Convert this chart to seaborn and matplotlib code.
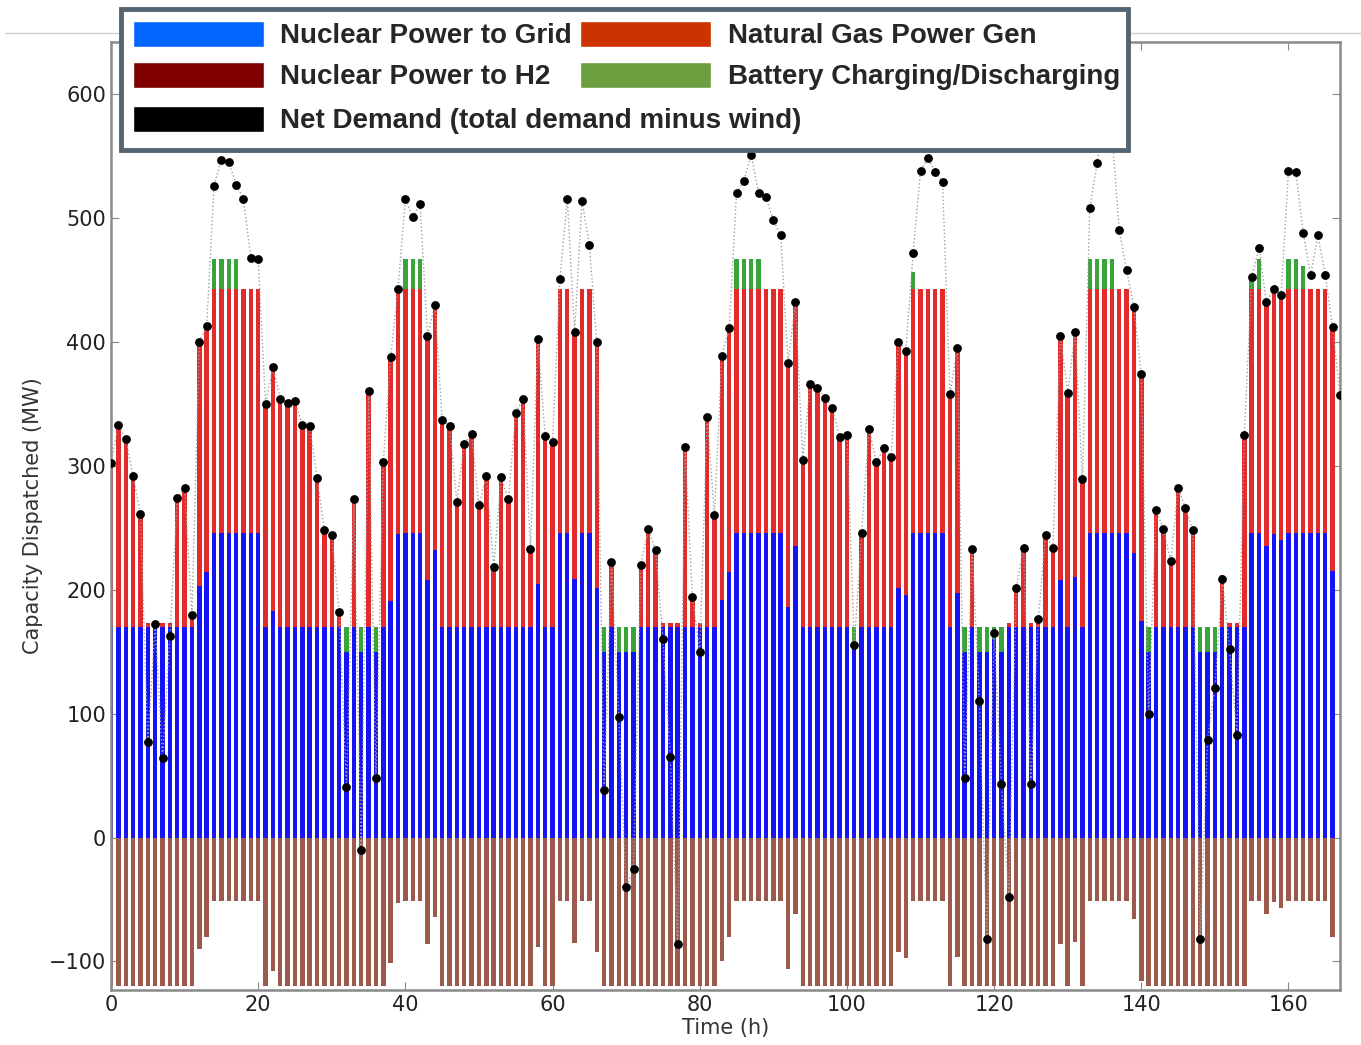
import numpy as np
import pandas as pd
import matplotlib
matplotlib.use('Agg')
import matplotlib.pyplot as plt
from matplotlib.patches import Patch, Rectangle
from matplotlib.lines import Line2D
import seaborn as sns

# Values (MW per hour), bars for hours 0..166
nuclear_grid = [
    170, 170, 170, 170, 170, 170, 170, 170, 170, 170, 170, 170, 203, 214, 246, 246, 246, 246, 246, 246,
    246, 170, 183, 170, 170, 170, 170, 170, 170, 170, 170, 170, 150, 170, 150, 170, 150, 170, 191, 245,
    246, 246, 246, 208, 232, 170, 170, 170, 170, 170, 170, 170, 170, 170, 170, 170, 170, 170, 205, 170,
    170, 246, 246, 209, 246, 246, 201, 150, 170, 150, 150, 150, 170, 170, 170, 170, 170, 170, 170, 170,
    170, 170, 170, 192, 214, 246, 246, 246, 246, 246, 246, 246, 186, 235, 170, 170, 170, 170, 170, 170,
    170, 158, 170, 170, 170, 170, 170, 201, 196, 246, 246, 246, 246, 246, 170, 197, 150, 170, 150, 150,
    160, 150, 170, 170, 170, 170, 170, 170, 170, 208, 170, 210, 170, 246, 246, 246, 246, 246, 246, 230,
    175, 150, 170, 170, 170, 170, 170, 170, 150, 150, 150, 170, 170, 170, 170, 246, 246, 235, 245, 240,
    246, 246, 246, 246, 246, 246, 215,
]
natural_gas = [
    132, 163, 152, 122, 91, 3, 3, 3, 3, 104, 112, 12, 197, 199, 197, 197, 197, 197, 197, 197,
    197, 180, 197, 184, 181, 183, 163, 163, 120, 78, 74, 12, 0, 103, 0, 190, 0, 133, 197, 198,
    197, 197, 197, 197, 197, 167, 163, 101, 148, 156, 98, 122, 48, 121, 103, 173, 184, 63, 197, 154,
    149, 197, 197, 199, 197, 197, 199, 0, 54, 0, 0, 0, 50, 80, 62, 3, 3, 3, 145, 25,
    3, 170, 90, 197, 197, 197, 197, 197, 197, 197, 197, 197, 197, 197, 137, 197, 194, 186, 178, 154,
    157, 0, 78, 161, 133, 144, 137, 199, 197, 197, 197, 197, 197, 197, 188, 197, 0, 65, 0, 0,
    0, 0, 3, 34, 63, 3, 7, 75, 64, 198, 189, 198, 120, 197, 197, 197, 197, 197, 197, 198,
    199, 0, 95, 80, 56, 114, 97, 79, 0, 0, 0, 42, 3, 3, 156, 197, 197, 197, 198, 198,
    197, 197, 197, 197, 197, 197, 197,
]
battery = [
    0, 0, 0, 0, 0, 0, 0, 0, 0, 0, 0, 0, 0, 0, 24, 24, 24, 24, 0, 0,
    0, 0, 0, 0, 0, 0, 0, 0, 0, 0, 0, 0, 20, 0, 20, 0, 20, 0, 0, 0,
    24, 24, 24, 0, 0, 0, 0, 0, 0, 0, 0, 0, 0, 0, 0, 0, 0, 0, 0, 0,
    0, 0, 0, 0, 0, 0, 0, 20, 0, 20, 20, 20, 0, 0, 0, 0, 0, 0, 0, 0,
    0, 0, 0, 0, 0, 24, 24, 24, 24, 0, 0, 0, 0, 0, 0, 0, 0, 0, 0, 0,
    0, 12, 0, 0, 0, 0, 0, 0, 0, 13, 0, 0, 0, 0, 0, 0, 20, 0, 20, 20,
    10, 20, 0, 0, 0, 0, 0, 0, 0, 0, 0, 0, 0, 24, 24, 24, 24, 0, 0, 0,
    0, 20, 0, 0, 0, 0, 0, 0, 20, 20, 20, 0, 0, 0, 0, 8, 24, 0, 0, 0,
    24, 24, 18, 0, 0, 0, 0,
]
nuclear_h2 = [
    -120, -120, -120, -120, -120, -120, -120, -120, -120, -120, -120, -120, -90, -80, -51, -51, -51, -51, -51, -51,
    -51, -120, -108, -120, -120, -120, -120, -120, -120, -120, -120, -120, -120, -120, -120, -120, -120, -120, -101, -53,
    -51, -51, -51, -86, -64, -120, -120, -120, -120, -120, -120, -120, -120, -120, -120, -120, -120, -120, -88, -120,
    -120, -51, -51, -85, -51, -51, -92, -120, -120, -120, -120, -120, -120, -120, -120, -120, -120, -120, -120, -120,
    -120, -120, -120, -100, -80, -51, -51, -51, -51, -51, -51, -51, -106, -62, -120, -120, -120, -120, -120, -120,
    -120, -120, -120, -120, -120, -120, -120, -92, -97, -51, -51, -51, -51, -51, -120, -96, -120, -120, -120, -120,
    -120, -120, -120, -120, -120, -120, -120, -120, -120, -86, -120, -84, -120, -51, -51, -51, -51, -51, -51, -66,
    -116, -120, -120, -120, -120, -120, -120, -120, -120, -120, -120, -120, -120, -120, -120, -51, -51, -62, -52, -57,
    -51, -51, -51, -51, -51, -51, -80,
]
# Net demand dots, hours 0..167
net_demand = [
    302, 333, 322, 292, 261, 77, 172, 64, 163, 274, 282, 180, 400, 413, 526, 547, 545, 527, 515, 468,
    467, 350, 380, 354, 351, 352, 333, 332, 290, 248, 244, 182, 41, 273, -10, 360, 48, 303, 388, 443,
    515, 501, 511, 405, 430, 337, 332, 271, 318, 326, 268, 292, 218, 291, 273, 343, 354, 233, 402, 324,
    319, 451, 515, 408, 514, 478, 400, 38, 222, 97, -40, -25, 220, 249, 232, 160, 65, -86, 315, 194,
    150, 339, 260, 389, 411, 520, 530, 551, 520, 517, 498, 486, 383, 432, 305, 366, 363, 355, 347, 323,
    325, 155, 246, 330, 303, 314, 307, 400, 393, 472, 538, 548, 537, 529, 358, 395, 48, 233, 110, -82,
    165, 43, -48, 201, 234, 43, 176, 244, 234, 405, 359, 408, 289, 508, 544, 580, 570, 490, 458, 428,
    374, 100, 264, 249, 223, 282, 266, 248, -82, 79, 121, 209, 152, 83, 325, 452, 476, 432, 443, 438,
    538, 537, 488, 454, 486, 454, 412, 357,
]

bar_hours = list(range(len(nuclear_grid)))
demand_hours = list(range(len(net_demand)))

df = pd.DataFrame({'hora': bar_hours, 'grid': nuclear_grid, 'gas': natural_gas,
                   'bat': battery, 'h2': nuclear_h2})
df['topo_gas'] = df['grid'] + df['gas']
df['topo_bat'] = df['topo_gas'] + df['bat']
df_dem = pd.DataFrame({'hora': demand_hours, 'demanda': net_demand})

sns.set_style('ticks')
plt.rcParams['font.family'] = ['DejaVu Sans']

W, H = 1361, 1045
fig = plt.figure(figsize=(W / 100, H / 100), dpi=100)
ax = fig.add_axes([111 / W, 55 / H, (1340 - 111) / W, (990 - 42) / H])

# stacked bars drawn top-down so each layer covers the one behind
bar_kw = dict(native_scale=True, orient='x', width=0.6, errorbar=None,
              saturation=1, linewidth=0, ax=ax)
sns.barplot(data=df, x='hora', y='topo_bat', color='#3aa43a', **bar_kw)
sns.barplot(data=df, x='hora', y='topo_gas', color='#e32b2b', **bar_kw)
sns.barplot(data=df, x='hora', y='grid', color='#1414f5', **bar_kw)
sns.barplot(data=df, x='hora', y='h2', color='#9c5a4c', **bar_kw)

sns.lineplot(data=df_dem, x='hora', y='demanda', color='#a0a0a0', linestyle=':',
             linewidth=1, ax=ax, zorder=4)
sns.scatterplot(data=df_dem, x='hora', y='demanda', color='black', s=40,
                linewidth=0, ax=ax, zorder=5)

ax.set_xlim(0, 167)
ax.set_ylim(-123, 642)
ax.set_xticks(range(0, 161, 20))
ax.set_yticks(range(-100, 601, 100))
ax.tick_params(direction='in', top=True, right=True, length=6, labelsize=15,
               color='#888888', labelcolor='#222222')
for s in ax.spines.values():
    s.set_color('#8a8a8a')
    s.set_linewidth(1.8)
ax.set_xlabel('Time (h)', fontsize=15, color='#333333', labelpad=2)
ax.set_ylabel('Capacity Dispatched (MW)', fontsize=15, color='#333333', labelpad=4)

# light rule across the top of the slide
fig.add_artist(Line2D([5 / W, 1], [1 - 33 / H, 1 - 33 / H], transform=fig.transFigure,
                      color='#cfcfcf', linewidth=1, zorder=1))

# legend box
fig.add_artist(Rectangle((121 / W, 1 - 150 / H), (1128 - 121) / W, (150 - 9) / H,
                         transform=fig.transFigure, facecolor='white',
                         edgecolor='#546470', linewidth=3.5, zorder=10))
fonte = {'family': 'Liberation Sans', 'weight': 'bold', 'size': 20}
leg_kw = dict(loc='upper left', prop=fonte, handlelength=4.7, handleheight=1.05,
              handletextpad=0.6, borderpad=0, borderaxespad=0, frameon=False)
h1 = [Patch(fc='#0066ff', label='Nuclear Power to Grid'),
      Patch(fc='#800000', label='Nuclear Power to H2'),
      Patch(fc='#cc3300', label='Natural Gas Power Gen'),
      Patch(fc='#6a9e3f', label='Battery Charging/Discharging')]
leg1 = fig.legend(handles=h1, ncol=2, columnspacing=0.3, labelspacing=0.45,
                  bbox_to_anchor=(133 / W, 1 - 21 / H), **leg_kw)
leg1.set_zorder(11)
h2 = [Patch(fc='black', label='Net Demand (total demand minus wind)')]
leg2 = fig.legend(handles=h2, bbox_to_anchor=(133 / W, 1 - 106 / H), **leg_kw)
leg2.set_zorder(11)

plt.savefig('out.png', dpi=100)
